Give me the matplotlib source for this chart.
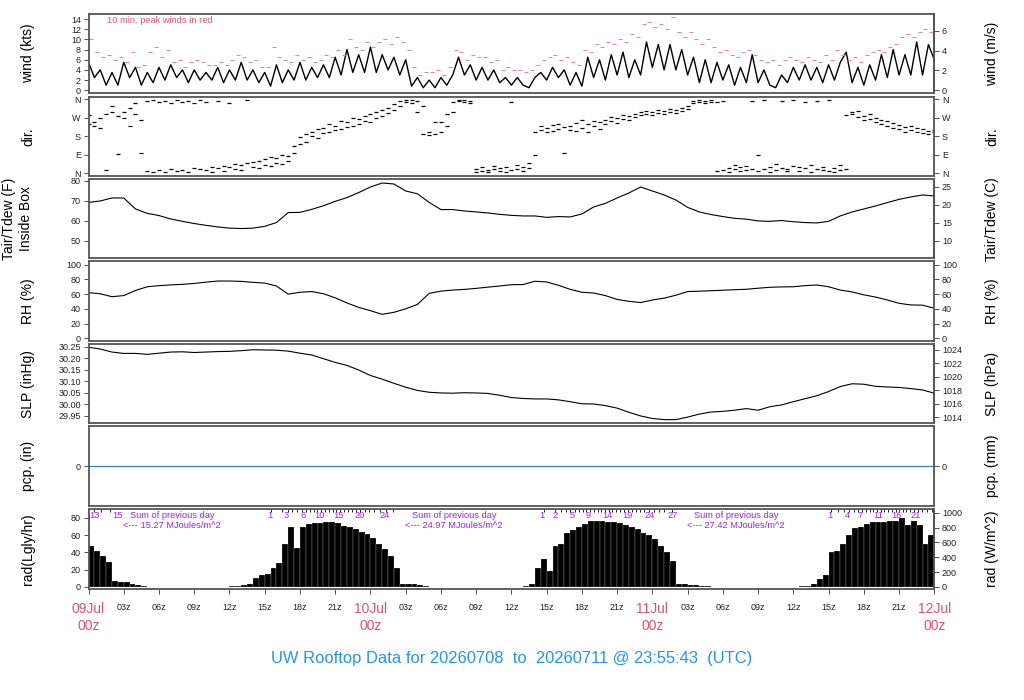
import numpy as np
import matplotlib.pyplot as plt
from matplotlib.transforms import blended_transform_factory

plt.rcParams['font.family'] = ['Liberation Sans', 'DejaVu Sans']

# time bases (hours after 09Jul 00z)
hours = np.arange(73)
half_hours = np.arange(145) * 0.5
peak_hours = np.arange(144) * 0.5 + 0.25

# wind (kts), half-hourly
wind_kts = [5.5, 2.5, 4, 1, 3.5, 1, 5.5, 2.5, 4.5, 1,
            3.5, 1.5, 4.5, 2, 5, 2.5, 4, 1.5, 4, 2,
            3.5, 2, 4.5, 1.5, 4, 2, 5.5, 2, 4, 1.5,
            3.5, 0.8, 5, 1.5, 4, 2, 5.5, 2, 4.5, 2.5,
            5, 2.5, 6.5, 3, 8, 3.5, 7, 3.5, 8.5, 3.5,
            7, 4, 6.5, 3, 6, 0.8, 2.5, 0.5, 2, 0.5,
            2.5, 1, 3, 6.5, 3, 5, 2, 4.5, 2, 4,
            1.5, 2.5, 1, 2.5, 1, 0.5, 2.5, 3.5, 2, 4.5,
            2.5, 4, 1, 3.5, 0.8, 6.5, 2.5, 6, 2, 7,
            3, 7.5, 2.5, 6, 3, 9.5, 4.5, 9, 4, 9,
            4, 8, 3, 6.5, 1.5, 6, 1.5, 5.5, 2, 5,
            1, 4.5, 1.5, 7, 1.5, 4, 1, 0.5, 3, 1.5,
            4.5, 2, 5, 2, 4.5, 1.5, 5, 2, 5.5, 7.5,
            1.5, 4.5, 1, 5, 2, 7, 2.5, 8, 3, 7,
            3, 9.5, 3, 9, 6]

# 10 min. peak winds (kts)
peak_kts = [10, 7.5, 6.5, 7, 6, 6.5, 5.5, 7.5, 4.5, 5,
            7.5, 8.5, 6.5, 8, 5.5, 6, 4.5, 5.5, 6, 5.5,
            5, 5, 5.5, 5, 6, 7, 6.5, 5.5, 6, 4.5,
            4.5, 8.5, 6.5, 6, 5.5, 7, 6, 6.5, 5.5, 6,
            7, 6.5, 8, 7, 10, 8.5, 8, 9.5, 8.5, 9.5,
            10, 9, 10.5, 9.5, 8, 4.5, 3, 3.5, 3.5, 4,
            3, 4.5, 8, 7.5, 6, 7, 6.5, 6.5, 5.5, 6,
            4, 4.5, 4, 4, 3.5, 4, 5, 6, 6.5, 7,
            6, 6.5, 5.5, 5, 8, 7.5, 9, 8.5, 9.5, 9,
            10, 9.5, 11, 10.5, 13, 13.5, 12.5, 13, 12, 14.5,
            11.5, 10.5, 11.5, 10, 9, 10, 8.5, 7.5, 8, 7,
            6.5, 7.5, 8, 7, 6, 5.5, 6, 5, 6, 6.5,
            6, 5.5, 6.5, 6, 5.5, 7, 6, 8, 7, 6,
            6.5, 5.5, 7, 7.5, 8, 7.5, 8.5, 9, 10.5, 11,
            10.5, 11.5, 12, 11.5]

# wind direction (deg), two readings per half hour
dir_a = [240, 250, 270, 290, 300, 280, 300, 320, 290, 260,
         350, 355, 345, 350, 340, 355, 345, 350, 340, 355,
         345, 5, 350, 10, 340, 20, 15, 355, 30, 25,
         40, 35, 50, 45, 60, 100, 140, 150, 180, 170,
         195, 200, 210, 215, 225, 230, 240, 255, 250, 270,
         280, 295, 310, 330, 345, 340, 350, 190, 185, 190,
         200, 230, 300, 350, 345, 350, 5, 10, 15, 20,
         10, 5, 15, 20, 10, 25, 200, 210, 220, 235,
         215, 225, 230, 205, 220, 240, 230, 250, 260, 255,
         270, 265, 280, 275, 285, 290, 300, 295, 305, 300,
         310, 320, 330, 340, 345, 350, 355, 345, 15, 25,
         20, 30, 15, 350, 10, 20, 30, 15, 350, 20,
         35, 10, 25, 5, 20, 30, 10, 25, 40, 20,
         290, 275, 280, 265, 250, 240, 230, 245, 215, 225,
         210, 200, 215, 205, 200]
dir_b = [285, 230, 220, 15, 330, 95, 270, 230, 340, 100,
         10, 5, 15, 5, 20, 10, 15, 5, 25, 20,
         15, 30, 25, 35, 30, 45, 40, 50, 55, 60,
         70, 80, 75, 90, 85, 130, 175, 190, 200, 215,
         220, 240, 230, 255, 250, 270, 265, 280, 290, 300,
         310, 320, 335, 350, 355, 355, 300, 330, 200, 250,
         250, 290, 345, 355, 355, 340, 20, 30, 5, 35,
         25, 30, 345, 40, 30, 50, 90, 230, 200, 205,
         240, 100, 210, 245, 260, 200, 255, 215, 240, 275,
         245, 285, 260, 290, 300, 305, 285, 310, 290, 315,
         295, 305, 315, 350, 355, 340, 345, 10, 350, 5,
         40, 10, 35, 20, 90, 355, 5, 45, 25, 10,
         355, 30, 345, 40, 350, 15, 355, 5, 15, 285,
         300, 305, 260, 290, 270, 260, 255, 220, 235, 200,
         230, 220, 195, 190, 210]

# hourly temperature (F), RH (%), SLP (inHg), precip (in)
temp_f = [69.3, 70.0, 71.5, 71.5, 66.0, 63.8, 62.7, 61.0, 59.8, 58.7,
          57.8, 57.0, 56.4, 56.2, 56.4, 57.3, 59.2, 64.2, 64.3, 65.8,
          67.6, 69.8, 71.7, 74.2, 77.0, 79.0, 78.5, 75.0, 73.6, 69.3,
          65.7, 65.7, 65.0, 64.5, 64.0, 63.3, 62.8, 62.5, 62.5, 61.8,
          62.2, 62.0, 63.5, 67.0, 68.8, 71.5, 74.0, 77.0, 75.0, 73.0,
          70.5, 66.8, 64.5, 63.2, 62.2, 61.3, 60.9, 60.0, 59.8, 60.2,
          59.6, 59.2, 59.0, 59.8, 62.5, 64.5, 66.0, 67.5, 69.2, 70.8,
          72.0, 73.0, 72.5]
rh_pct = [62.0, 60.5, 56.5, 58.0, 65.0, 70.0, 71.5, 72.5, 73.3, 74.5,
          76.3, 77.8, 77.8, 77.3, 76.0, 75.0, 71.0, 60.0, 62.5, 63.5,
          60.5, 55.0, 48.0, 42.0, 37.5, 32.5, 35.3, 40.0, 46.0, 61.0,
          64.0, 65.5, 66.4, 67.8, 69.5, 71.0, 72.8, 73.0, 77.5, 76.5,
          72.0, 66.5, 62.5, 61.5, 58.0, 52.8, 50.2, 48.5, 52.0, 54.5,
          58.5, 63.5, 64.0, 64.6, 65.3, 66.0, 66.6, 68.0, 69.3, 69.8,
          70.0, 71.5, 72.4, 70.0, 65.5, 63.0, 59.0, 56.0, 52.0, 47.5,
          45.3, 45.0, 40.8]
slp_inhg = [30.249, 30.241, 30.228, 30.222, 30.222, 30.218, 30.223, 30.228, 30.229, 30.226,
            30.228, 30.230, 30.231, 30.234, 30.238, 30.237, 30.236, 30.232, 30.223, 30.215,
            30.199, 30.183, 30.170, 30.150, 30.126, 30.110, 30.092, 30.075, 30.061, 30.053,
            30.050, 30.049, 30.051, 30.050, 30.048, 30.040, 30.030, 30.026, 30.024, 30.024,
            30.020, 30.012, 30.003, 30.002, 29.995, 29.984, 29.966, 29.950, 29.939, 29.934,
            29.934, 29.945, 29.958, 29.967, 29.970, 29.975, 29.982, 29.975, 29.990, 29.998,
            30.012, 30.025, 30.038, 30.056, 30.078, 30.090, 30.088, 30.079, 30.076, 30.074,
            30.069, 30.063, 30.049]
pcp_in = [0.0] * 73

# solar radiation (Lgly/hr), half-hourly
rad_lgly = [47, 42, 36, 29, 7, 6, 6, 3, 2, 1,
            0, 0, 0, 0, 0, 0, 0, 0, 0, 0,
            0, 0, 0, 0, 1, 1, 2, 4, 10, 14,
            15, 22, 28, 50, 70, 45, 70, 73, 74, 74,
            75, 75, 74, 71, 70, 67, 64, 61, 57, 50,
            44, 36, 22, 3, 3, 4, 2, 1, 0, 0,
            0, 0, 0, 0, 0, 0, 0, 0, 0, 0,
            0, 0, 0, 0.5, 1, 4, 22, 32, 18, 47,
            50, 63, 66, 70, 73, 76, 77, 76, 75.5, 75,
            74, 72, 70, 67, 63, 60, 56, 48, 40, 30,
            3, 3, 2.5, 2, 1.5, 1, 0, 0, 0, 0,
            0, 0, 0, 0, 0, 0, 0, 0, 0, 0,
            0.5, 1, 1.5, 4, 9, 14, 40, 42, 50, 60,
            68, 69, 73, 75, 75.5, 75.5, 76, 76, 80, 72,
            76, 72, 50, 60, 45]
rad_carry_mj = 12.0            # 08Jul running total at start
rad_reset_hours = [7.0, 31.0, 55.0]
rad_sum_totals = ['15.27', '24.97', '27.42']
cum_label_hours = [0.5, 2.45,
                   15.4, 16.8, 18.3, 19.65, 21.3, 23.1, 25.2,
                   38.6, 39.7, 41.2, 42.55, 44.2, 45.9, 47.8, 49.7,
                   63.1, 64.6, 65.7, 67.2, 68.8, 70.4]
cum_label_text = ['13', '15',
                  '1', '3', '6', '10', '15', '20', '24',
                  '1', '2', '5', '9', '14', '19', '24', '27',
                  '1', '4', '7', '11', '16', '21']

date_hours = [0, 24, 48, 72]
date_labels = ['09Jul', '10Jul', '11Jul', '12Jul']
title = 'UW Rooftop Data for 20260708  to  20260711 @ 23:55:43  (UTC)'

KTS_PER_MS = 1.94384
HPA_PER_INHG = 33.8639
WM2_PER_LGLYHR = 11.622
MJ_PER_LGLY = 0.04184

RED = '#DF536B'
PINK = '#E8809A'
BLUE = '#2297E6'
PURPLE = '#A020F0'
TICK = dict(direction='out', length=3.5, width=0.6, color='#333333',
            labelsize=6.5, pad=2, labelcolor='#222222')

fig = plt.figure(figsize=(10.24, 7), dpi=100)


def panel(top, bot):
    ax = fig.add_axes([88.5 / 1024, 1 - bot / 700, 845.8 / 1024, (bot - top) / 700])
    ax.set_xlim(0, 72)
    ax.set_xticks([])
    for s in ax.spines.values():
        s.set_color('#555555')
        s.set_linewidth(1.3)
    ax.tick_params(axis='y', **TICK)
    return ax


def labels(ax, left, right):
    bb = ax.get_position()
    yc = bb.y0 + bb.height / 2
    if left is not None:
        fig.text(28 / 1024, yc, left, rotation=90, ha='center', va='center', fontsize=10)
    fig.text(992 / 1024, yc, right, rotation=90, ha='center', va='center', fontsize=10)


def twin(ax, fwd, inv, ticks, fmt=None):
    sec = ax.secondary_yaxis('right', functions=(fwd, inv))
    sec.set_yticks(ticks)
    if fmt:
        sec.set_yticklabels([fmt(t) for t in ticks])
    sec.tick_params(**TICK)
    sec.spines['right'].set_color('#555555')
    sec.spines['right'].set_linewidth(1.3)
    return sec


# wind
ax = panel(14, 93.3)
ax.plot(half_hours, wind_kts, color='black', lw=1.0)
ax.plot(peak_hours, peak_kts, ls='none', marker='_', ms=3, mew=0.7, color=PINK)
ax.set_ylim(-0.6, 15)
ax.set_yticks(range(0, 15, 2))
ax.text(0.022, 0.924, '10 min. peak winds in red', transform=ax.transAxes,
        ha='left', va='center', fontsize=6.7, color=RED)
twin(ax, lambda k: k / KTS_PER_MS, lambda m: m * KTS_PER_MS, [0, 2, 4, 6])
labels(ax, 'wind (kts)', 'wind (m/s)')

# direction
ax = panel(96.7, 175.7)
for d in (dir_a, dir_b):
    ax.plot(half_hours, d, ls='none', marker='_', ms=3, mew=0.9, color='black')
ax.set_ylim(-13, 373)
ax.set_yticks([0, 90, 180, 270, 360])
ax.set_yticklabels(['N', 'E', 'S', 'W', 'N'])
ax.tick_params(axis='y', right=True, labelright=True)
labels(ax, 'dir.', 'dir.')

# temperature
ax = panel(179, 258.3)
ax.plot(hours, temp_f, color='black', lw=0.8)
ax.set_ylim(41.3, 81)
ax.set_yticks([50, 60, 70, 80])
twin(ax, lambda f: (f - 32) * 5 / 9, lambda c: c * 9 / 5 + 32, [10, 15, 20, 25])
bb = ax.get_position()
fig.text(9 / 1024, bb.y0 + bb.height / 2, 'Tair/Tdew (F)', rotation=90,
         ha='center', va='center', fontsize=10)
fig.text(26 / 1024, bb.y0 + bb.height / 2, 'Inside Box', rotation=90,
         ha='center', va='center', fontsize=10)
labels(ax, None, 'Tair/Tdew (C)')

# relative humidity
ax = panel(261, 341)
ax.plot(hours, rh_pct, color='black', lw=0.8)
ax.set_ylim(-3.7, 105)
ax.set_yticks(range(0, 101, 20))
ax.tick_params(axis='y', right=True, labelright=True)
labels(ax, 'RH (%)', 'RH (%)')

# sea level pressure
ax = panel(344, 423.3)
ax.plot(hours, slp_inhg, color='black', lw=0.8)
ax.set_ylim(29.918, 30.263)
slp_ticks = [29.95, 30.00, 30.05, 30.10, 30.15, 30.20, 30.25]
ax.set_yticks(slp_ticks)
ax.set_yticklabels([f'{v:.2f}' for v in slp_ticks])
twin(ax, lambda p: p * HPA_PER_INHG, lambda h: h / HPA_PER_INHG, range(1014, 1025, 2))
labels(ax, 'SLP (inHg)', 'SLP (hPa)')

# precipitation
ax = panel(426, 506)
ax.plot(hours, pcp_in, color='#3B7DC4', lw=0.9)
ax.set_ylim(-1, 1)
ax.set_yticks([0])
ax.tick_params(axis='y', right=True, labelright=True)
labels(ax, 'pcp. (in)', 'pcp. (mm)')

# radiation
ax = panel(509.3, 588.7)
ax.bar(half_hours, rad_lgly, width=0.5, align='edge', color='black',
       edgecolor='white', linewidth=0.15)
ax.set_xlim(0, 72)
ax.set_ylim(-2, 90)
ax.set_yticks(range(0, 81, 20))
twin(ax, lambda r: r * WM2_PER_LGLYHR, lambda w: w / WM2_PER_LGLYHR, range(0, 1001, 200))
labels(ax, 'rad(Lgly/hr)', 'rad (W/m^2)')
trans = blended_transform_factory(ax.transData, ax.transAxes)

# running daily total ticks along the top edge
cum = rad_carry_mj
tick_t = []
for t, r in zip(half_hours, rad_lgly):
    if t in rad_reset_hours:
        cum = 0.0
    new = cum + r * 0.5 * MJ_PER_LGLY
    for k in range(int(cum) + 1, int(new) + 1):
        tick_t.append(t + 0.5 * (k - cum) / (new - cum))
    cum = new
ax.vlines(tick_t, 0.96, 1.0, transform=trans, color='black', lw=0.6)
for h, s in zip(cum_label_hours, cum_label_text):
    ax.text(h, 0.928, s, transform=trans, ha='center', va='center', fontsize=6.7, color=PURPLE)
for h, s in zip(rad_reset_hours, rad_sum_totals):
    ax.text(h + 0.1, 0.928, 'Sum of previous day', transform=trans,
            ha='center', va='center', fontsize=6.7, color=PURPLE)
    ax.text(h + 0.1, 0.793, f'<--- {s} MJoules/m^2', transform=trans,
            ha='center', va='center', fontsize=6.7, color=PURPLE)

xt = list(range(0, 73, 3))
ax.set_xticks(xt)
ax.set_xticklabels(['' if h % 24 == 0 else f'{h % 24:02d}z' for h in xt])
ax.tick_params(axis='x', direction='out', length=3.5, width=0.6, color='#333333',
               labelsize=6.5, pad=7, labelcolor='#222222')
for h, d in zip(date_hours, date_labels):
    ax.text(h, -0.26, d, transform=trans, ha='center', va='center', fontsize=10, color=RED)
    ax.text(h, -0.47, '00z', transform=trans, ha='center', va='center', fontsize=10, color=RED)

fig.text(0.5, 1 - 659 / 700, title, ha='center', va='center', fontsize=11.9, color=BLUE)

fig.savefig('out.png', dpi=100)
